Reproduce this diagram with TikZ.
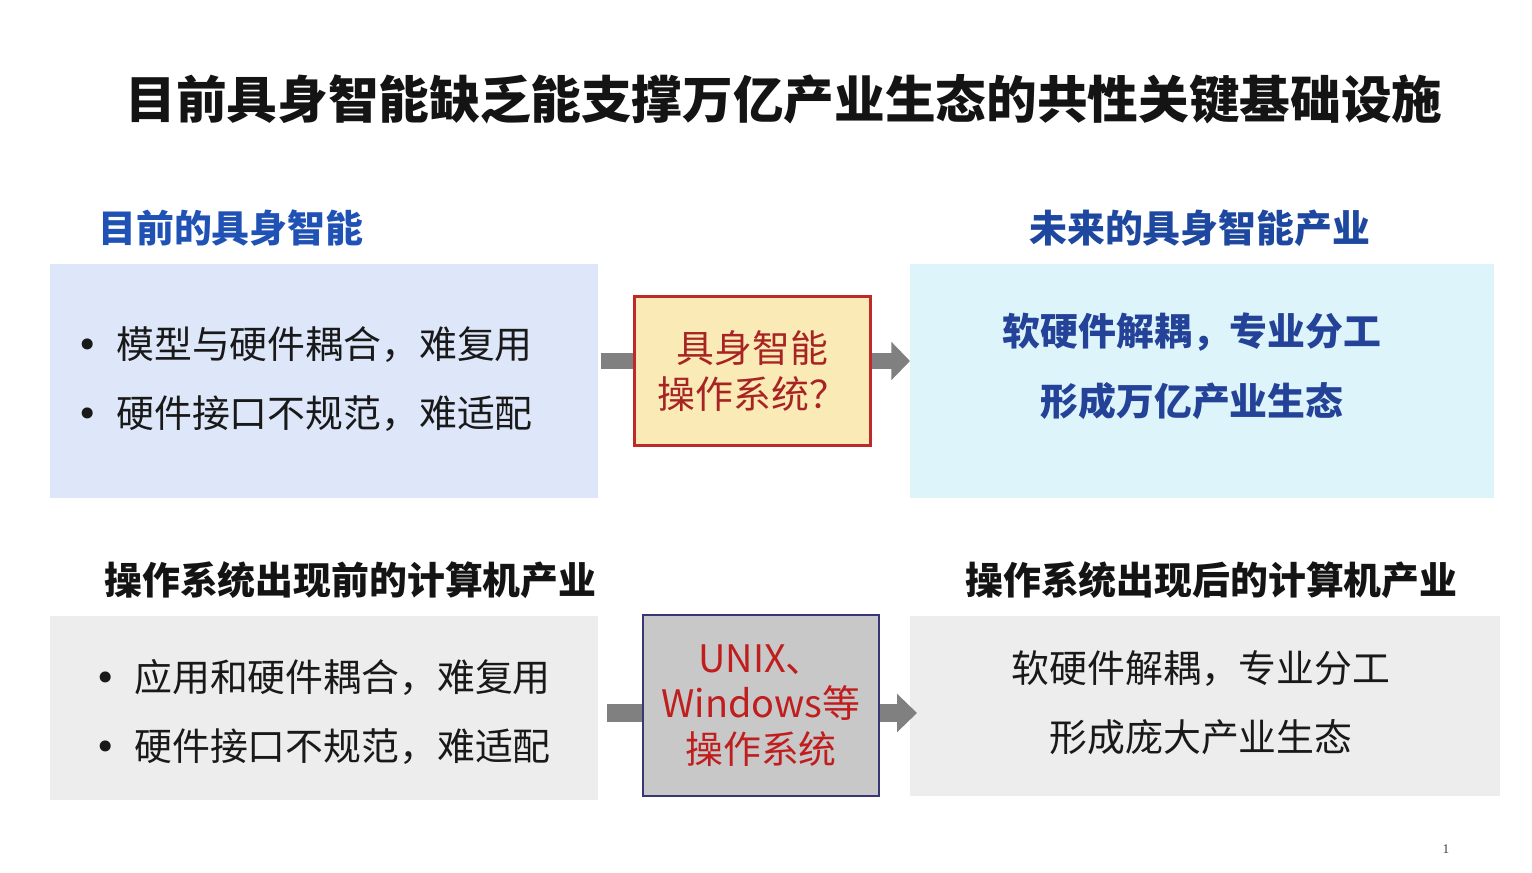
\documentclass[tikz,border=0pt]{standalone}
\usepackage{fontspec}
\setmainfont{Noto Sans CJK SC}
\newfontfamily\pgnumfont{Liberation Serif}
\newfontfamily\bulfont{DejaVu Sans}
\usetikzlibrary{arrows.meta}
\definecolor{titleblk}{RGB}{20,20,20}
\definecolor{headblue}{RGB}{32,82,182}
\definecolor{headblue2}{RGB}{30,72,160}
\definecolor{txtblue}{RGB}{35,66,152}
\definecolor{boxblue}{RGB}{221,231,249}
\definecolor{boxcyan}{RGB}{221,244,250}
\definecolor{boxgray}{RGB}{237,237,237}
\definecolor{ybox}{RGB}{250,234,182}
\definecolor{yborder}{RGB}{190,42,42}
\definecolor{ytext}{RGB}{168,36,36}
\definecolor{gbox}{RGB}{200,200,200}
\definecolor{gborder}{RGB}{55,55,120}
\definecolor{gtext}{RGB}{192,30,30}
\definecolor{arrgray}{RGB}{128,128,128}
\definecolor{bodytxt}{RGB}{25,25,25}
\newcommand{\bul}{\makebox[30pt][l]{\bulfont •}}
\tikzset{
  panel/.style={draw=none,anchor=north west,inner sep=0pt},
  heading/.style={anchor=base west,inner sep=0pt,font=\fontsize{28.4}{34}\selectfont\bfseries},
  bodytext/.style={inner sep=0pt,text=bodytxt,font=\fontsize{28.4}{51.75}\selectfont},
  shaft/.style={draw=arrgray,line width=12pt},
  shaftb/.style={draw=arrgray,line width=14pt},
}
\begin{document}
\begin{tikzpicture}[x=0.75pt,y=-0.75pt]
\useasboundingbox[fill=white] (0,0) rectangle (1532,873);
% title
\node[anchor=base,inner sep=0pt,text=titleblk,font=\fontsize{38}{44}\selectfont\bfseries] (title) at (784,119) {目前具身智能缺乏能支撑万亿产业生态的共性关键基础设施};
% headings
\node[heading,text=headblue] (h1) at (98,243) {目前的具身智能};
\node[heading,text=headblue2] (h2) at (1029,243) {未来的具身智能产业};
\node[heading,text=titleblk] (h3) at (104,594) {操作系统出现前的计算机产业};
\node[heading,text=titleblk] (h4) at (965,594) {操作系统出现后的计算机产业};
% panels top
\node[panel,fill=boxblue,minimum width=548*0.75pt,minimum height=234*0.75pt] (lbox1) at (50,264) {};
\node[panel,fill=boxcyan,minimum width=584*0.75pt,minimum height=234*0.75pt] (rbox1) at (910,264) {};
\node[draw=yborder,fill=ybox,line width=2pt,minimum width=236*0.75pt,minimum height=149*0.75pt,inner sep=0pt,align=center,text=ytext,font=\fontsize{28.4}{34.5}\selectfont] (c1) at (752.5,371) {具身智能\\操作系统？};
% panels bottom
\node[panel,fill=boxgray,minimum width=548*0.75pt,minimum height=184*0.75pt] (lbox2) at (50,616) {};
\node[panel,fill=boxgray,minimum width=590*0.75pt,minimum height=180*0.75pt] (rbox2) at (910,616) {};
\node[draw=gborder,fill=gbox,line width=1.1pt,minimum width=236*0.75pt,minimum height=181*0.75pt,inner sep=0pt,align=center,text=gtext,font=\fontsize{28.4}{34}\selectfont] (c2) at (761,705.5) {UNIX、\\Windows等\\操作系统};
% texts
\node[bodytext,anchor=west,align=left] (t1) at (76,379.5) {\bul 模型与硬件耦合，难复用\\\bul 硬件接口不规范，难适配};
\node[bodytext,anchor=west,align=left] (t2) at (94,711.5) {\bul 应用和硬件耦合，难复用\\\bul 硬件接口不规范，难适配};
\node[inner sep=0pt,align=center,text=txtblue,font=\fontsize{28.4}{52.5}\selectfont\bfseries] (t3) at (1192,366) {软硬件解耦，专业分工\\形成万亿产业生态};
\node[bodytext,align=center] (t4) at (1201,703) {软硬件解耦，专业分工\\形成庞大产业生态};
% arrows
\coordinate (a1) at (0,361);
\coordinate (a2) at (0,713);
\coordinate (tip1) at (910,361);
\coordinate (tip2) at (917,713);
\draw[shaft] (lbox1.east |- a1) ++(2,0) -- (c1.west |- a1);
\draw[shaft,-{Triangle[length=14pt,width=28pt]}] (c1.east |- a1) -- (tip1);
\draw[shaftb] (lbox2.east |- a2) ++(8,0) -- (c2.west |- a2);
\draw[shaftb,-{Triangle[length=15pt,width=28pt]}] (c2.east |- a2) -- (tip2);
% page number
\node[inner sep=0pt,text=black!75,font=\pgnumfont\fontsize{10}{11}\selectfont] (pg) at (1446,849) {1};
\end{tikzpicture}
\end{document}
